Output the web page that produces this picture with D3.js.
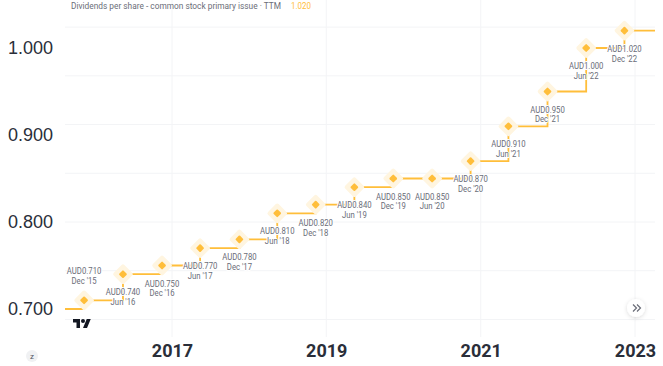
<!DOCTYPE html>
<html>
<head>
<meta charset="utf-8">
<script src="https://cdn.jsdelivr.net/npm/d3@7"></script>
<style>
  html, body { margin: 0; padding: 0; background: #fff; overflow: hidden; }
  text { font-family: Roboto, sans-serif; }
  .small { font-size: 9px; }
</style>
</head>
<body>
<div id="chart"></div>
<script>
const reportDates = ["2015-11-12", "2016-05-14", "2016-11-15", "2017-05-14", "2017-11-16", "2018-05-14", "2018-11-12", "2019-05-14", "2019-11-14", "2020-05-16", "2020-11-14", "2021-05-12", "2021-11-13", "2022-05-15", "2022-11-12"];
const periods = ["Dec '15", "Jun '16", "Dec '16", "Jun '17", "Dec '17", "Jun '18", "Dec '18", "Jun '19", "Dec '19", "Jun '20", "Dec '20", "Jun '21", "Dec '21", "Jun '22", "Dec '22"];
const dividends = [0.71, 0.74, 0.75, 0.77, 0.78, 0.81, 0.82, 0.84, 0.85, 0.85, 0.87, 0.91, 0.95, 1.0, 1.02];
const startValue = 0.7;
const yTicks = [1.0, 0.9, 0.8, 0.7];
const xTicks = ["2017-01-01", "2019-01-01", "2021-01-01", "2023-01-01"];
const yGrid = [1.024, 0.968, 0.912, 0.856, 0.8, 0.744, 0.688];
const seriesName = "Dividends per share - common stock primary issue · TTM";
const lastValue = "1.020";

const width = 663;
const height = 366;
const left = 65;
const right = 655;
const gridBottom = 337;
const lineColor = "#ffbe3a";

const parse = d3.utcParse("%Y-%m-%d");
const points = reportDates.map((d, i) => ({ date: parse(d), value: dividends[i], period: periods[i] }));

const x = d3.scaleUtc().domain([parse("2017-01-01"), parse("2023-01-01")]).range([172, 635]);
const y = d3.scaleLinear().domain([0.7, 1.0]).range([309, 48]);

const svg = d3
  .select("#chart")
  .append("svg")
  .attr("width", width)
  .attr("height", height);

// grid
svg
  .append("g")
  .selectAll("line")
  .data(yGrid)
  .enter()
  .append("line")
  .attr("x1", left)
  .attr("x2", right)
  .attr("y1", (d) => y(d))
  .attr("y2", (d) => y(d))
  .attr("stroke", "#f3f4f6");

svg
  .append("g")
  .selectAll("line")
  .data(xTicks)
  .enter()
  .append("line")
  .attr("x1", (d) => x(parse(d)))
  .attr("x2", (d) => x(parse(d)))
  .attr("y1", 0)
  .attr("y2", gridBottom)
  .attr("stroke", "#f3f4f6");

// axes
const yAxis = svg
  .append("g")
  .attr("transform", "translate(60,0)")
  .call(d3.axisLeft(y).tickValues(yTicks).tickFormat(d3.format(".3f")).tickSize(0).tickPadding(7));
yAxis.select(".domain").remove();
yAxis.selectAll("text").style("font-family", "'Liberation Sans'").style("font-size", "18px").attr("fill", "#2a2e39");

const xAxis = svg
  .append("g")
  .attr("transform", "translate(0,344)")
  .call(d3.axisBottom(x).tickValues(xTicks.map(parse)).tickFormat(d3.utcFormat("%Y")).tickSize(0).tickPadding(0));
xAxis.select(".domain").remove();
xAxis.selectAll("text").style("font-size", "18px").style("font-weight", 700).attr("fill", "#2a2e39");

// step line, runs on past both ends of the data
const lineData = [
  { date: x.invert(left), value: startValue },
  ...points,
  { date: x.invert(right), value: dividends[dividends.length - 1] },
];
const stepLine = d3.line().x((d) => x(d.date)).y((d) => y(d.value)).curve(d3.curveStepAfter);

svg
  .append("path")
  .datum(lineData)
  .attr("d", stepLine)
  .attr("fill", "none")
  .attr("stroke", lineColor)
  .attr("stroke-width", 1.8);

// markers
const marker = svg
  .append("g")
  .selectAll("g")
  .data(points)
  .enter()
  .append("g")
  .attr("transform", (d) => `translate(${x(d.date)},${y(d.value)})`);

marker
  .append("rect")
  .attr("x", -7.5)
  .attr("y", -7.5)
  .attr("width", 15)
  .attr("height", 15)
  .attr("rx", 2)
  .attr("transform", "rotate(45)")
  .attr("fill", "#fff5e0");

marker
  .append("rect")
  .attr("x", -3)
  .attr("y", -3)
  .attr("width", 6)
  .attr("height", 6)
  .attr("rx", 1)
  .attr("transform", "rotate(45)")
  .attr("fill", lineColor);

// value labels sit under the point, only the first one goes above
// squeezed sideways, the reference font is narrower than Roboto
const label = svg
  .append("g")
  .selectAll("text")
  .data(points)
  .enter()
  .append("text")
  .attr("class", "small")
  .attr("text-anchor", "middle")
  .attr("transform", (d, i) => `translate(${x(d.date)},${y(d.value) + (i === 0 ? -26 : 21)}) scale(0.86,1)`)
  .attr("fill", "#6a6d78")
  .attr("stroke", "#fff")
  .attr("stroke-width", 2)
  .attr("paint-order", "stroke");

label.append("tspan").text((d) => `AUD${d.value.toFixed(3)}`);
label
  .append("tspan")
  .attr("x", 0)
  .attr("dy", 10)
  .text((d) => d.period);

// legend line
svg
  .append("text")
  .attr("class", "small")
  .attr("x", 71)
  .attr("y", 9)
  .attr("textLength", 210)
  .attr("lengthAdjust", "spacingAndGlyphs")
  .attr("fill", "#6a6d78")
  .text(seriesName);

svg
  .append("text")
  .attr("class", "small")
  .attr("x", 291)
  .attr("y", 9)
  .attr("textLength", 20)
  .attr("lengthAdjust", "spacingAndGlyphs")
  .attr("fill", lineColor)
  .text(lastValue);

// logo
const logo = svg.append("g").attr("transform", "translate(73,317) scale(0.5)").attr("fill", "#131722");
logo.append("path").attr("d", "M14 22H7V11H0V4h14v18zM28 22h-8l7.5-18h8L28 22z");
logo.append("circle").attr("cx", 20).attr("cy", 8).attr("r", 4);

// "z" button
svg.append("circle").attr("cx", 32).attr("cy", 356).attr("r", 6).attr("fill", "#f0f1f3");
svg
  .append("text")
  .attr("x", 32)
  .attr("y", 358.5)
  .attr("text-anchor", "middle")
  .attr("font-size", "8px")
  .attr("fill", "#50535e")
  .text("z");

// scroll button
const shadow = svg.append("defs").append("filter").attr("id", "soft").attr("x", "-50%").attr("y", "-50%").attr("width", "200%").attr("height", "200%");
shadow.append("feDropShadow").attr("dx", 0).attr("dy", 1).attr("stdDeviation", 2).attr("flood-color", "#000").attr("flood-opacity", 0.15);
svg.append("circle").attr("cx", 636).attr("cy", 308).attr("r", 9).attr("fill", "#fff").attr("filter", "url(#soft)");
svg
  .append("path")
  .attr("d", "M633 304.5l3.5 3.5-3.5 3.5M637 304.5l3.5 3.5-3.5 3.5")
  .attr("fill", "none")
  .attr("stroke", "#6a6d78")
  .attr("stroke-width", 1.2);
</script>
</body>
</html>
